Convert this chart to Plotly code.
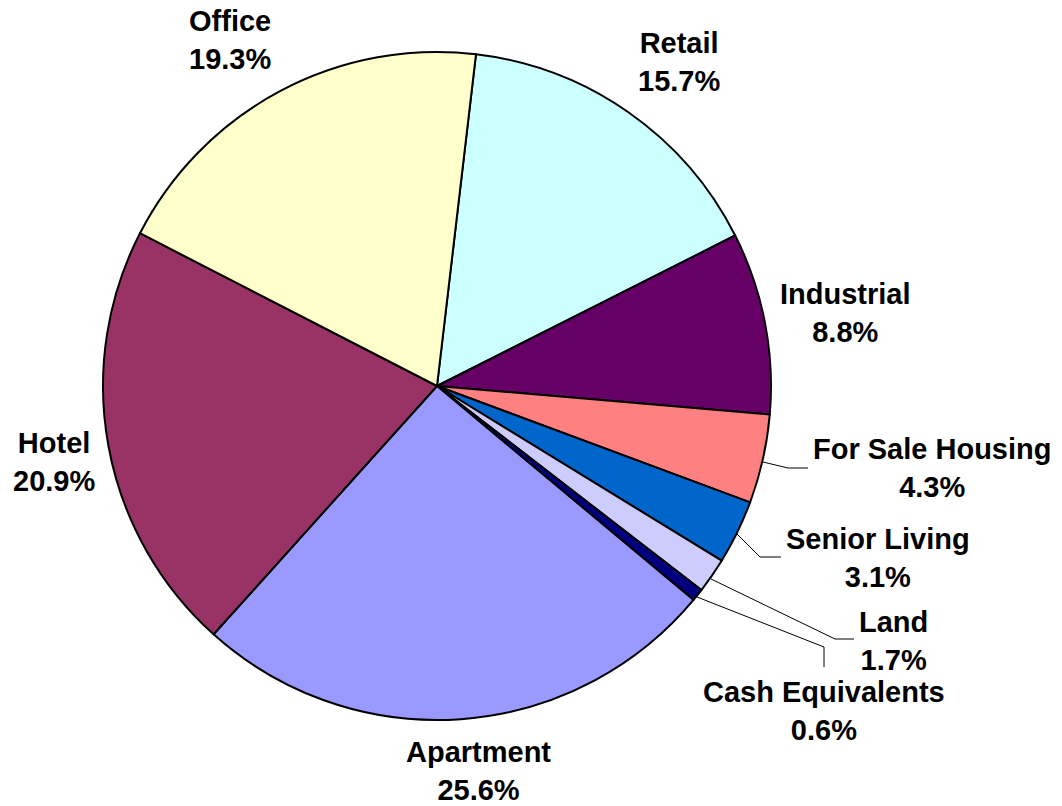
import plotly.graph_objects as go

W, H = 1062, 806

categories = ["Retail", "Industrial", "For Sale Housing", "Senior Living", "Land",
              "Cash Equivalents", "Apartment", "Hotel", "Office"]
shares = [15.7, 8.8, 4.3, 3.1, 1.7, 0.6, 25.6, 20.9, 19.3]
colors = ["#CCFFFF", "#660066", "#FF8080", "#0066CC", "#CCCCFF",
          "#000080", "#9999FF", "#993366", "#FFFFCC"]

# label block centres (pixels from top-left)
label_pos = {
    "Retail": (679, 62),
    "Industrial": (845, 313),
    "For Sale Housing": (932, 468),
    "Senior Living": (878, 558),
    "Land": (893, 641),
    "Cash Equivalents": (824, 711),
    "Apartment": (478, 771),
    "Hotel": (54, 462),
    "Office": (230, 40),
}

# leader lines (pixel polylines) for the thin slices
leaders = {
    "For Sale Housing": [(763, 462), (788, 468), (808, 468)],
    "Senior Living": [(737, 534), (760, 557), (781, 557)],
    "Land": [(711, 579), (835, 639), (854, 639)],
    "Cash Equivalents": [(697, 597), (824, 647), (824, 667)],
}

cx, cy, r = 437, 386, 334

fig = go.Figure(go.Pie(
    labels=categories,
    values=shares,
    sort=False,
    direction="clockwise",
    rotation=6.7,
    marker=dict(colors=colors, line=dict(color="black", width=2)),
    textinfo="none",
    hoverinfo="label+percent",
    showlegend=False,
    domain=dict(x=[(cx - r) / W, (cx + r) / W],
                y=[(H - cy - r) / H, (H - cy + r) / H]),
))

font = dict(family="Liberation Sans, Arial, sans-serif", size=29, color="black", weight="bold")
for name, val in zip(categories, shares):
    px, py = label_pos[name]
    fig.add_annotation(
        x=px / W, y=1 - py / H, xref="paper", yref="paper",
        text=f"{name}<br>{val:.1f}%", showarrow=False,
        xanchor="center", yanchor="middle", align="center", font=font,
        borderpad=0,
    )

for name, pts in leaders.items():
    path = "M " + " L ".join(f"{x / W},{1 - y / H}" for x, y in pts)
    fig.add_shape(type="path", path=path, xref="paper", yref="paper",
                  line=dict(color="black", width=1))

fig.update_layout(
    width=W, height=H,
    margin=dict(l=0, r=0, t=0, b=0),
    paper_bgcolor="white", plot_bgcolor="white",
)

fig.write_html("out.html")
